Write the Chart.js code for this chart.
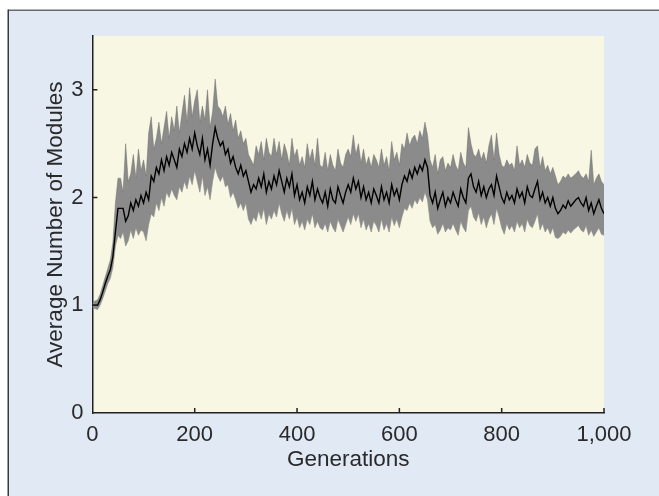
<!DOCTYPE html>
<html>
<head>
<meta charset="utf-8">
<script src="https://cdn.jsdelivr.net/npm/chart.js@4.4.1/dist/chart.umd.min.js"></script>
<style>
  html, body { margin: 0; padding: 0; background: #ffffff; }
  #wrap { width: 659px; height: 496px; }
</style>
</head>
<body>
<div id="wrap"><canvas id="modules" width="659" height="496"></canvas></div>
<script>
// sampled every 5 generations, 0..1000
const step = 5;
const generations = Array.from({length: 201}, (_, i) => i * step);

const mean_modules = [
    1.00, 1.00, 1.00, 1.05, 1.12, 1.20, 1.27, 1.33, 1.45, 1.68,
    1.90, 1.90, 1.90, 1.78, 1.83, 1.95, 1.88, 1.98, 1.92, 2.02,
    1.95, 2.05, 1.98, 2.20, 2.15, 2.28, 2.22, 2.35, 2.25, 2.38,
    2.30, 2.42, 2.35, 2.28, 2.45, 2.38, 2.50, 2.42, 2.55, 2.45,
    2.60, 2.48, 2.40, 2.55, 2.35, 2.45, 2.30, 2.50, 2.65, 2.55,
    2.48, 2.52, 2.40, 2.45, 2.32, 2.38, 2.28, 2.22, 2.30, 2.20,
    2.25, 2.15, 2.05, 2.12, 2.08, 2.18, 2.10, 2.22, 2.05, 2.15,
    2.08, 2.20, 2.12, 2.25, 2.15, 2.05, 2.18, 2.10, 2.22, 2.02,
    2.12, 1.98, 2.05, 1.95, 2.10, 2.02, 2.15, 1.98, 2.08, 2.00,
    1.95, 2.05, 1.92, 2.08, 1.98, 1.95, 2.10, 2.02, 1.95, 2.05,
    2.12, 2.05, 2.18, 2.08, 2.15, 2.00, 2.10, 1.98, 2.05, 1.95,
    2.08, 2.02, 1.95, 2.10, 1.98, 2.05, 1.95, 2.12, 2.02, 2.08,
    1.98, 2.12, 2.20, 2.15, 2.25, 2.18, 2.28, 2.22, 2.30, 2.25,
    2.35, 2.28, 2.02, 1.95, 2.05, 1.90, 1.98, 2.05, 1.92, 2.00,
    1.95, 2.05, 1.98, 1.92, 2.08, 2.00, 1.95, 2.18, 2.22, 2.10,
    2.05, 2.15, 2.02, 2.10, 2.00, 2.08, 2.12, 2.02, 2.20, 2.10,
    2.00, 1.95, 2.05, 1.98, 2.02, 1.95, 2.08, 2.00, 2.05, 1.95,
    2.10, 2.02, 2.00, 2.08, 2.15, 1.98, 2.05, 1.95, 2.00, 1.92,
    2.00, 1.90, 1.85, 1.88, 1.93, 1.90, 1.97, 1.92, 1.95, 1.98,
    2.00, 1.95, 1.92, 2.00, 1.88, 1.95, 1.85, 1.92, 1.98, 1.90,
    1.85
];

const upper_band = [
    1.02, 1.04, 1.05, 1.10, 1.18, 1.26, 1.34, 1.42, 1.58, 1.95,
    2.18, 2.18, 2.05, 2.50, 2.15, 2.22, 2.40, 2.18, 2.45, 2.25,
    2.35, 2.20, 2.60, 2.75, 2.45, 2.55, 2.70, 2.50, 2.65, 2.80,
    2.55, 2.75, 2.62, 2.85, 2.60, 2.78, 2.95, 2.70, 3.02, 2.75,
    2.90, 3.00, 2.70, 2.85, 2.72, 3.00, 2.65, 2.80, 3.10, 2.85,
    2.82, 2.75, 2.85, 2.68, 2.78, 2.62, 2.72, 2.55, 2.62, 2.50,
    2.55, 2.40, 2.35, 2.30, 2.48, 2.40, 2.52, 2.35, 2.55, 2.42,
    2.38, 2.55, 2.40, 2.52, 2.35, 2.50, 2.42, 2.30, 2.55, 2.38,
    2.45, 2.30, 2.38, 2.28, 2.50, 2.35, 2.45, 2.30, 2.55, 2.30,
    2.28, 2.42, 2.25, 2.40, 2.30, 2.25, 2.45, 2.32, 2.28, 2.40,
    2.45, 2.38, 2.58, 2.40, 2.50, 2.32, 2.45, 2.30, 2.38, 2.28,
    2.40, 2.35, 2.28, 2.45, 2.30, 2.38, 2.25, 2.52, 2.35, 2.42,
    2.30, 2.50, 2.45, 2.60, 2.48, 2.55, 2.58, 2.50, 2.62, 2.55,
    2.70, 2.58, 2.35, 2.28, 2.40, 2.22, 2.35, 2.38, 2.25, 2.32,
    2.28, 2.40, 2.30, 2.25, 2.42, 2.32, 2.28, 2.65, 2.50, 2.40,
    2.38, 2.45, 2.35, 2.42, 2.32, 2.48, 2.58, 2.35, 2.60, 2.40,
    2.30, 2.28, 2.35, 2.30, 2.32, 2.25, 2.48, 2.30, 2.35, 2.28,
    2.40, 2.32, 2.30, 2.45, 2.48, 2.28, 2.38, 2.25, 2.30, 2.22,
    2.28, 2.20, 2.12, 2.15, 2.20, 2.18, 2.22, 2.18, 2.20, 2.22,
    2.25, 2.20, 2.18, 2.22, 2.15, 2.44, 2.12, 2.18, 2.22, 2.15,
    2.12
];

const lower_band = [
    0.98, 0.97, 0.96, 1.00, 1.06, 1.13, 1.20, 1.25, 1.35, 1.55,
    1.65, 1.62, 1.68, 1.55, 1.60, 1.70, 1.62, 1.72, 1.65, 1.70,
    1.68, 1.60, 1.75, 1.85, 1.82, 1.95, 1.88, 2.00, 1.92, 2.05,
    2.00, 2.08, 2.02, 1.98, 2.10, 2.05, 2.15, 2.08, 2.20, 2.12,
    2.25, 2.15, 2.05, 2.20, 2.02, 2.10, 1.98, 2.15, 2.28, 2.20,
    2.15, 2.20, 2.10, 2.12, 2.00, 2.05, 1.98, 1.90, 1.95, 1.88,
    1.95, 1.80, 1.75, 1.82, 1.78, 1.88, 1.80, 1.90, 1.75, 1.85,
    1.80, 1.88, 1.82, 1.95, 1.85, 1.78, 1.88, 1.80, 1.90, 1.75,
    1.82, 1.72, 1.78, 1.70, 1.80, 1.75, 1.85, 1.72, 1.78, 1.72,
    1.70, 1.76, 1.68, 1.78, 1.72, 1.68, 1.80, 1.74, 1.68, 1.75,
    1.82, 1.75, 1.85, 1.78, 1.85, 1.72, 1.80, 1.70, 1.76, 1.68,
    1.78, 1.74, 1.68, 1.80, 1.70, 1.76, 1.68, 1.82, 1.74, 1.80,
    1.72, 1.82, 1.90, 1.88, 1.95, 1.90, 1.98, 1.94, 2.00, 1.96,
    2.05, 1.98, 1.78, 1.72, 1.75, 1.66, 1.70, 1.76, 1.68, 1.72,
    1.70, 1.76, 1.70, 1.65, 1.78, 1.72, 1.68, 1.88, 1.92, 1.82,
    1.78, 1.86, 1.75, 1.82, 1.72, 1.80, 1.85, 1.75, 1.90, 1.82,
    1.72, 1.66, 1.76, 1.70, 1.74, 1.68, 1.78, 1.72, 1.76, 1.68,
    1.80, 1.74, 1.72, 1.78, 1.85, 1.70, 1.76, 1.68, 1.72, 1.66,
    1.72, 1.63, 1.62, 1.64, 1.68, 1.66, 1.70, 1.67, 1.70, 1.72,
    1.74, 1.70, 1.68, 1.74, 1.65, 1.70, 1.64, 1.68, 1.72, 1.66,
    1.65
];

const x_ticks = [0, 200, 400, 600, 800, 1000];
const y_ticks = [0, 1, 2, 3];

const FONT = "'Liberation Sans', Arial, sans-serif";
const TEXT = '#2a2a2a';

function to_points(values) {
    return values.map((v, i) => ({x: generations[i], y: v}));
}

// frame, panel and plot backgrounds
const backdrop = {
    id: 'backdrop',
    beforeDraw(chart) {
        const ctx = chart.ctx;
        const a = chart.chartArea;
        ctx.save();
        ctx.fillStyle = '#ffffff';
        ctx.fillRect(0, 0, chart.width, chart.height);
        ctx.fillStyle = '#e0e9f4';
        ctx.fillRect(9, 11, chart.width - 9, chart.height - 11);
        ctx.fillStyle = '#6a6a6a';
        ctx.fillRect(8, 9.5, chart.width - 8, 1.5);
        ctx.fillStyle = '#3a3a3a';
        ctx.fillRect(7.5, 9.5, 1.5, chart.height - 9.5);
        ctx.fillStyle = '#f7f7e3';
        ctx.fillRect(a.left, a.top, a.right - a.left, a.bottom - a.top);
        ctx.restore();
    },
    // small inward tick marks
    afterDatasetsDraw(chart) {
        const ctx = chart.ctx;
        const xs = chart.scales.x, ys = chart.scales.y;
        ctx.save();
        ctx.strokeStyle = '#222';
        ctx.lineWidth = 1.5;
        ctx.beginPath();
        x_ticks.slice(1).forEach(t => {
            const px = xs.getPixelForValue(t);
            ctx.moveTo(px, ys.bottom);
            ctx.lineTo(px, ys.bottom - 5);
        });
        y_ticks.slice(1).forEach(t => {
            const py = ys.getPixelForValue(t);
            ctx.moveTo(xs.left, py);
            ctx.lineTo(xs.left + 5, py);
        });
        ctx.stroke();
        ctx.restore();
    }
};

document.addEventListener("DOMContentLoaded", function() {
    const ctx = document.getElementById('modules');

    new Chart(ctx, {
        type: 'line',
        plugins: [backdrop],
        data: {
            datasets: [{
                    label: 'Mean',
                    data: to_points(mean_modules),
                    borderColor: '#000000',
                    borderWidth: 1.4,
                    pointRadius: 0,
                    fill: false
                },
                {
                    label: 'Upper',
                    data: to_points(upper_band),
                    borderColor: 'rgba(110,110,110,0.6)',
                    borderWidth: 0.8,
                    backgroundColor: '#8b8b8b',
                    pointRadius: 0,
                    fill: '+1'
                },
                {
                    label: 'Lower',
                    data: to_points(lower_band),
                    borderColor: 'rgba(110,110,110,0.6)',
                    borderWidth: 0.8,
                    pointRadius: 0,
                    fill: false
                }
            ]
        },
        options: {
            responsive: false,
            animation: false,
            events: [],
            layout: {
                padding: {left: 42, right: 55, top: 36, bottom: 23}
            },
            plugins: {
                legend: {display: false},
                tooltip: {enabled: false}
            },
            scales: {
                x: {
                    type: 'linear',
                    min: 0,
                    max: 1000,
                    afterFit: s => { s.height = 60; },
                    afterBuildTicks: s => { s.ticks = x_ticks.map(v => ({value: v})); },
                    border: {display: true, color: '#222', width: 1.5},
                    grid: {display: false, drawTicks: false},
                    ticks: {
                        padding: 9,
                        color: TEXT,
                        font: {family: FONT, size: 22},
                        maxRotation: 0,
                        callback: v => v.toLocaleString('en-US')
                    },
                    title: {
                        display: true,
                        text: 'Generations',
                        color: TEXT,
                        padding: {top: 0, bottom: 0},
                        font: {family: FONT, size: 22.5}
                    }
                },
                y: {
                    min: 0,
                    max: 3.5,
                    afterFit: s => { s.width = 50.4; },
                    afterBuildTicks: s => { s.ticks = y_ticks.map(v => ({value: v})); },
                    border: {display: true, color: '#222', width: 1.5},
                    grid: {display: false, drawTicks: false},
                    ticks: {
                        padding: 9,
                        color: TEXT,
                        font: {family: FONT, size: 22}
                    },
                    title: {
                        display: true,
                        text: 'Average Number of Modules',
                        color: TEXT,
                        padding: {top: 0, bottom: 0},
                        font: {family: FONT, size: 22.5}
                    }
                }
            }
        }
    });
});
</script>
</body>
</html>
